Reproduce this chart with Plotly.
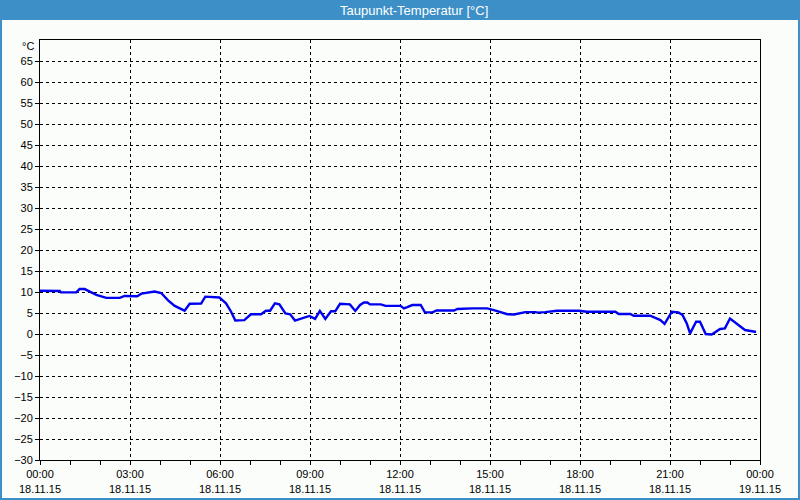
import plotly.graph_objects as go

# ---- data (hours after 18.11.15 00:00, dew point in °C) ----
hours = [0.0, 0.66, 0.7, 1.21, 1.32, 1.49, 1.66, 1.88, 2.21, 2.66,
         2.82, 2.99, 3.24, 3.38, 3.71, 3.82, 4.04, 4.27, 4.49, 4.66,
         4.82, 4.99, 5.37, 5.51, 5.98, 6.2, 6.37, 6.51, 6.81, 7.03,
         7.37, 7.53, 7.67, 7.83, 7.98, 8.18, 8.34, 8.5, 8.76, 8.98,
         9.17, 9.33, 9.51, 9.7, 9.84, 10.0, 10.33, 10.51, 10.67, 10.8,
         10.91, 11.0, 11.36, 11.52, 12.02, 12.13, 12.24, 12.41, 12.69, 12.83,
         13.08, 13.22, 13.8, 13.91, 14.41, 14.91, 15.13, 15.36, 15.58, 15.8,
         15.96, 16.18, 16.51, 16.6, 16.84, 17.23, 17.96, 18.23, 19.18, 19.29,
         19.68, 19.79, 20.34, 20.51, 20.68, 20.82, 20.96, 21.06, 21.28, 21.42,
         21.56, 21.67, 21.87, 22.0, 22.19, 22.39, 22.67, 22.83, 23.0, 23.22,
         23.5, 23.83, 23.87]
dewpoint = [10.3, 10.25, 9.9, 9.9, 10.7, 10.7, 10.1, 9.3, 8.6, 8.6,
            9.05, 9.1, 9.0, 9.6, 10.1, 10.1, 9.75, 8.0, 6.7, 6.1,
            5.55, 7.2, 7.25, 8.9, 8.7, 7.3, 5.3, 3.2, 3.3, 4.7,
            4.7, 5.55, 5.55, 7.3, 7.05, 4.9, 4.7, 3.2, 3.7, 4.3,
            3.6, 5.5, 3.6, 5.4, 5.4, 7.2, 7.05, 5.5, 6.9, 7.5,
            7.5, 7.05, 7.05, 6.7, 6.7, 6.1, 6.4, 6.9, 6.9, 5.15,
            5.15, 5.6, 5.6, 5.95, 6.1, 6.1, 5.7, 5.1, 4.7, 4.65,
            4.9, 5.2, 5.2, 5.1, 5.2, 5.55, 5.55, 5.3, 5.3, 4.75,
            4.75, 4.35, 4.35, 3.9, 3.3, 2.4, 4.1, 5.3, 5.15, 4.5,
            2.5, 0.15, 2.9, 2.9, 0.0, -0.1, 1.2, 1.35, 3.7, 2.4,
            0.95, 0.55, 0.55]

x_tick_hours = [0, 3, 6, 9, 12, 15, 18, 21, 24]
x_time_labels = ["00:00", "03:00", "06:00", "09:00", "12:00", "15:00", "18:00", "21:00", "00:00"]
x_date_labels = ["18.11.15"] * 8 + ["19.11.15"]
y_ticks = list(range(-30, 70, 5))
title_text = "Taupunkt-Temperatur [°C]"
unit_text = "°C"

# ---- layout geometry (pixels) ----
W, H = 800, 500
L, R, T, B = 40, 40, 40, 40
PW, PH = W - L - R, H - T - B
def px(x):
    return (x - L) / PW
def py(y):
    return (H - B - y) / PH

bg = "#FBFDFB"
blue_bar = "#3C8FC7"
font = "Liberation Sans"

fig = go.Figure()
fig.add_trace(go.Scatter(x=hours, y=dewpoint, mode="lines",
                         line=dict(color="#0000F0", width=2.4),
                         hoverinfo="skip", showlegend=False))

fig.update_layout(
    template="none",
    width=W, height=H,
    margin=dict(l=L, r=R, t=T, b=B, pad=0, autoexpand=False),
    paper_bgcolor=bg, plot_bgcolor=bg,
    font=dict(family=font, size=11, color="#000000"),
    showlegend=False,
    xaxis=dict(
        range=[0, 24], tickvals=x_tick_hours, automargin=False,
        ticktext=[f"{t}<br>{d}" for t, d in zip(x_time_labels, x_date_labels)],
        ticks="outside", ticklen=4, tickcolor="#000", tickwidth=1,
        showline=True, linecolor="#000", linewidth=1, mirror=True,
        showgrid=True, gridcolor="#000", gridwidth=1, griddash="3px,3px",
        zeroline=False, fixedrange=True,
        minor=dict(dtick=1, ticks="outside", ticklen=4, tickcolor="#000", showgrid=False),
    ),
    yaxis=dict(
        range=[-30, 70], tickvals=y_ticks, automargin=False,
        ticks="outside", ticklen=4, tickcolor="#000", tickwidth=1,
        showline=True, linecolor="#000", linewidth=1, mirror=True,
        showgrid=True, gridcolor="#000", gridwidth=1, griddash="3px,3px",
        zeroline=False, fixedrange=True,
    ),
    shapes=[
        # title bar
        dict(type="rect", xref="paper", yref="paper",
             x0=px(0), x1=px(W), y0=py(20), y1=py(0),
             fillcolor=blue_bar, line=dict(width=0), layer="above"),
        # outer frame
        dict(type="rect", xref="paper", yref="paper",
             x0=px(1), x1=px(W - 1), y0=py(H - 1), y1=py(10),
             fillcolor="rgba(0,0,0,0)", line=dict(color=blue_bar, width=2), layer="above"),
    ],
    annotations=[
        dict(text=title_text, xref="paper", yref="paper", x=px(414), y=py(10),
             xanchor="center", yanchor="middle", showarrow=False,
             font=dict(family=font, size=13, color="#FFFFFF")),
        dict(text=unit_text, xref="paper", yref="paper", x=px(36), y=py(46),
             xanchor="right", yanchor="middle", showarrow=False,
             font=dict(family=font, size=11, color="#000000")),
    ],
)

fig.write_html("out.html")
